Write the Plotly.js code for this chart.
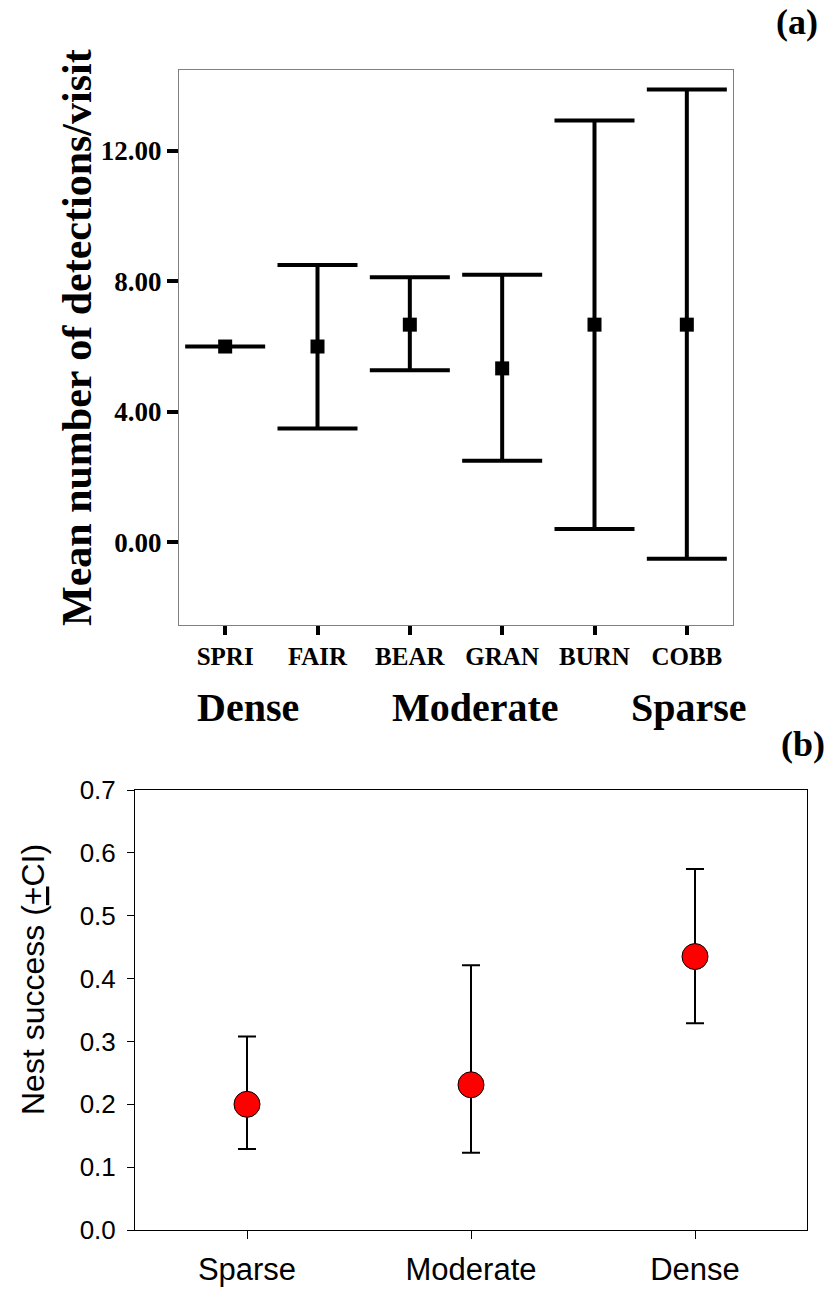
<!DOCTYPE html>
<html>
<head>
<meta charset="utf-8">
<script src="https://cdn.plot.ly/plotly-3.0.1.min.js"></script>
<style>html,body{margin:0;padding:0;background:#fff;}</style>
</head>
<body>
<div id="chart" style="width:827px;height:1289px;"></div>
<script>
// Panel (a)
const sites = ['SPRI', 'FAIR', 'BEAR', 'GRAN', 'BURN', 'COBB'];
const siteMeans = [6.0, 6.0, 6.67, 5.33, 6.67, 6.67];
const siteUpper = [6.0, 8.5, 8.12, 8.2, 12.92, 13.87];
const siteLower = [6.0, 3.49, 5.27, 2.5, 0.41, -0.5];
const groupLabels = ['Dense', 'Moderate', 'Sparse'];
const yTicksA = [0, 4, 8, 12];

// Panel (b)
const cover = ['Sparse', 'Moderate', 'Dense'];
const nestMeans = [0.2, 0.231, 0.435];
const nestUpper = [0.3077, 0.421, 0.5745];
const nestLower = [0.129, 0.123, 0.329];

const W = 827, H = 1289;
const px = v => v / W;
const py = v => 1 - v / H;

const serifBold = {family: 'Liberation Serif, Times New Roman, serif', weight: 'bold', color: '#000'};
const sans = {family: 'Liberation Sans, Arial, sans-serif', color: '#000'};

const traceA = {
  type: 'scatter', mode: 'markers', x: sites, y: siteMeans,
  xaxis: 'x', yaxis: 'y',
  marker: {symbol: 'square', size: 14, color: '#000'},
  error_y: {type: 'data', symmetric: false,
    array: siteUpper.map((u, i) => u - siteMeans[i]),
    arrayminus: siteMeans.map((m, i) => m - siteLower[i]),
    color: '#000', thickness: 4, width: 40},
  showlegend: false, hoverinfo: 'skip'
};
const traceB = {
  type: 'scatter', mode: 'markers', x: cover, y: nestMeans,
  xaxis: 'x2', yaxis: 'y2',
  marker: {symbol: 'circle', size: 26, color: '#ff0000', line: {color: '#000', width: 1}},
  error_y: {type: 'data', symmetric: false,
    array: nestUpper.map((u, i) => u - nestMeans[i]),
    arrayminus: nestMeans.map((m, i) => m - nestLower[i]),
    color: '#000', thickness: 2, width: 9},
  showlegend: false, hoverinfo: 'skip'
};

const groupX = [248, 475, 689];

const layout = {
  width: W, height: H,
  margin: {l: 0, r: 0, t: 0, b: 0},
  paper_bgcolor: '#fff', plot_bgcolor: '#fff',
  showlegend: false,
  xaxis: {
    domain: [px(179), px(733)], anchor: 'y',
    type: 'category', categoryarray: sites, range: [-0.5, 5.5],
    showgrid: false, zeroline: false,
    showline: true, linecolor: '#808080', linewidth: 1, mirror: true,
    ticks: 'outside', ticklen: 9, tickwidth: 4, tickcolor: '#000',
    ticklabelstandoff: 0,
    tickfont: Object.assign({size: 25}, serifBold)
  },
  yaxis: {
    domain: [py(625), py(70)], anchor: 'x',
    range: [-2.53, 14.47], tickvals: yTicksA, tickformat: '.2f',
    showgrid: false, zeroline: false,
    showline: true, linecolor: '#808080', linewidth: 1, mirror: true,
    ticks: 'outside', ticklen: 11, tickwidth: 4, tickcolor: '#000',
    ticklabelstandoff: 0,
    tickfont: Object.assign({size: 27}, serifBold)
  },
  xaxis2: {
    domain: [px(135), px(807)], anchor: 'y2',
    type: 'category', categoryarray: cover, range: [-0.5, 2.5],
    showgrid: false, zeroline: false,
    showline: true, linecolor: '#000', linewidth: 1, mirror: true,
    ticks: 'outside', ticklen: 8, tickwidth: 1, tickcolor: '#000',
    ticklabelstandoff: 4,
    tickfont: Object.assign({size: 31}, sans)
  },
  yaxis2: {
    domain: [py(1230), py(790)], anchor: 'x2',
    range: [0, 0.7], dtick: 0.1, tick0: 0, tickformat: '.1f',
    showgrid: false, zeroline: false,
    showline: true, linecolor: '#000', linewidth: 1, mirror: true,
    ticks: 'outside', ticklen: 7, tickwidth: 1, tickcolor: '#000',
    ticklabelstandoff: 6,
    tickfont: Object.assign({size: 26}, sans)
  },
  annotations: [
    {text: '(a)', xref: 'paper', yref: 'paper', x: px(797), y: py(22),
      xanchor: 'center', yanchor: 'middle', showarrow: false,
      font: Object.assign({size: 36}, serifBold)},
    {text: '(b)', xref: 'paper', yref: 'paper', x: px(803), y: py(744),
      xanchor: 'center', yanchor: 'middle', showarrow: false,
      font: Object.assign({size: 36}, serifBold)},
    {text: 'Mean number of detections/visit', xref: 'paper', yref: 'paper',
      x: px(77), y: py(338), textangle: -90,
      xanchor: 'center', yanchor: 'middle', showarrow: false,
      font: Object.assign({size: 42}, serifBold)},
    {text: 'Nest success (<u>+</u>CI)', xref: 'paper', yref: 'paper',
      x: px(33), y: py(980), textangle: -90,
      xanchor: 'center', yanchor: 'middle', showarrow: false,
      font: Object.assign({size: 32}, sans)}
  ].concat(groupLabels.map((g, i) => ({
      text: g, xref: 'paper', yref: 'paper', x: px(groupX[i]), y: py(708),
      xanchor: 'center', yanchor: 'middle', showarrow: false,
      font: Object.assign({size: 40}, serifBold)
  })))
};

Plotly.newPlot('chart', [traceA, traceB], layout, {displayModeBar: false, staticPlot: true});
</script>
</body>
</html>
